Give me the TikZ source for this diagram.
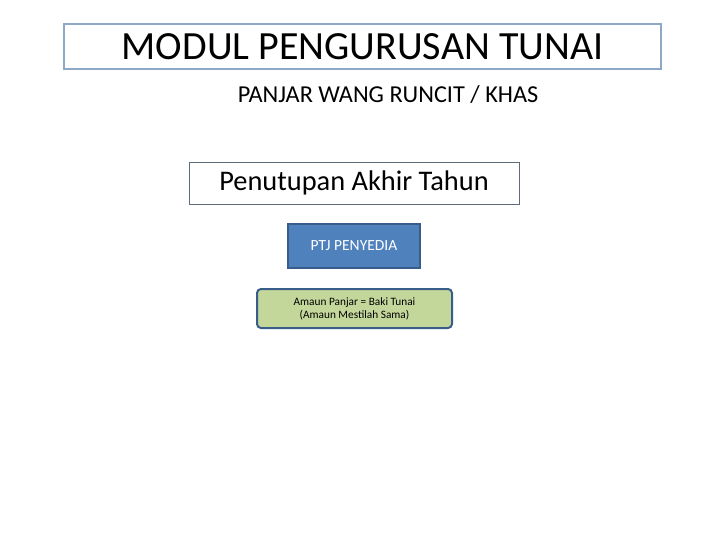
\documentclass[tikz,border=0pt]{standalone}
\usepackage{fontspec}
\setmainfont{Carlito}
\usetikzlibrary{positioning}

\definecolor{titleedge}{HTML}{8EA9C8}
\definecolor{boxedge}{HTML}{5F6B78}
\definecolor{ptjfill}{HTML}{4F81BD}
\definecolor{ptjedge}{HTML}{385D8A}
\definecolor{notefill}{HTML}{C4D79B}

\begin{document}
\begin{tikzpicture}[x=1pt, y=-1pt]

  \useasboundingbox (0,0) rectangle (720,540);

  \node[draw=titleedge, line width=2.5pt, minimum width=597pt,
    minimum height=45pt, font=\fontsize{40}{46}\selectfont] (title) at (362.5,46.5)
  {MODUL PENGURUSAN TUNAI};

  \node[font=\fontsize{24.3}{28}\selectfont] (sub) at (388,95)
  {PANJAR WANG RUNCIT / KHAS};

  \node[draw=boxedge, line width=0.8pt, minimum width=330pt,
    minimum height=42pt, font=\fontsize{28.4}{32}\selectfont] (tahun) at (354,183)
  {Penutupan Akhir Tahun};

  \node[draw=ptjedge, fill=ptjfill, line width=2pt, text=white,
    minimum width=132pt, minimum height=43pt,
    font=\fontsize{15.5}{18}\selectfont] (ptj) at (354,246) {PTJ PENYEDIA};

  \node[draw=ptjedge, fill=notefill, line width=2pt, rounded corners=4pt,
    minimum width=195pt, minimum height=39pt, align=center,
    font=\fontsize{11.3}{13}\selectfont] (amaun) at (354.5,308.5)
  {Amaun Panjar = Baki Tunai\\(Amaun Mestilah Sama)};

\end{tikzpicture}
\end{document}
